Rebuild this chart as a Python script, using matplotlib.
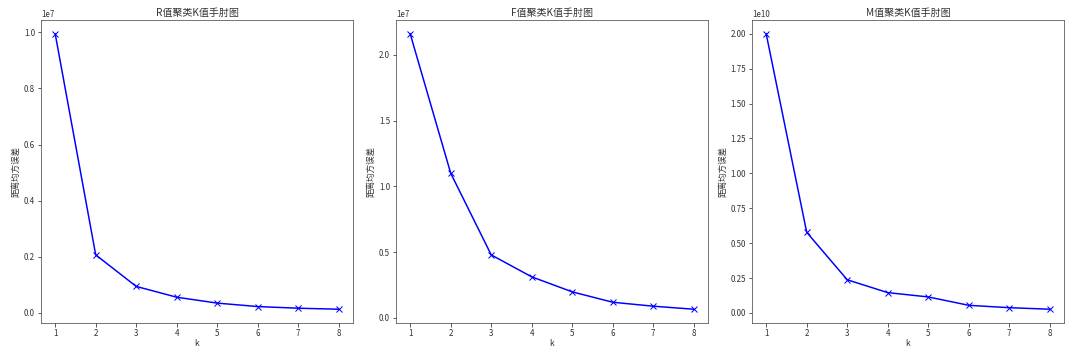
import matplotlib
matplotlib.use("Agg")
import matplotlib.pyplot as plt

plt.rcParams['font.family'] = ['Noto Sans CJK SC', 'DejaVu Sans']
plt.rcParams['axes.unicode_minus'] = False

k = [1, 2, 3, 4, 5, 6, 7, 8]
r_sse = [0.995e7, 0.207e7, 0.0945e7, 0.056e7, 0.035e7, 0.0227e7, 0.0168e7, 0.0132e7]
f_sse = [2.16e7, 1.10e7, 0.479e7, 0.312e7, 0.198e7, 0.119e7, 0.089e7, 0.066e7]
m_sse = [2.00e10, 0.578e10, 0.238e10, 0.146e10, 0.115e10, 0.055e10, 0.038e10, 0.027e10]
titles = ['R值聚类K值手肘图', 'F值聚类K值手肘图', 'M值聚类K值手肘图']
ylabel = '距离均方误差'
xlabel = 'k'

W, H = 1080, 347
fig = plt.figure(figsize=(W / 72, H / 72), dpi=72)
lefts = [41, 396, 752]
width = 312
top, bottom = 20, 323
for i, (data, title) in enumerate(zip([r_sse, f_sse, m_sse], titles)):
    ax = fig.add_axes([lefts[i] / W, 1 - bottom / H, width / W, (bottom - top) / H])
    ax.plot(k, data, color='blue', marker='x', linewidth=1.5, markersize=5.5)
    ax.set_title(title, fontsize=10, color='#333333', pad=4)
    ax.set_xlabel(xlabel, fontsize=8.5, color='#333333', labelpad=1)
    ax.set_ylabel(ylabel, fontsize=8.5, color='#333333', labelpad=3)
    ax.tick_params(labelsize=8, colors='#333333', pad=2.5)
    ax.yaxis.get_offset_text().set_fontsize(8)
    for s in ax.spines.values():
        s.set_color('#555555')

fig.savefig('out.png', dpi=72)
